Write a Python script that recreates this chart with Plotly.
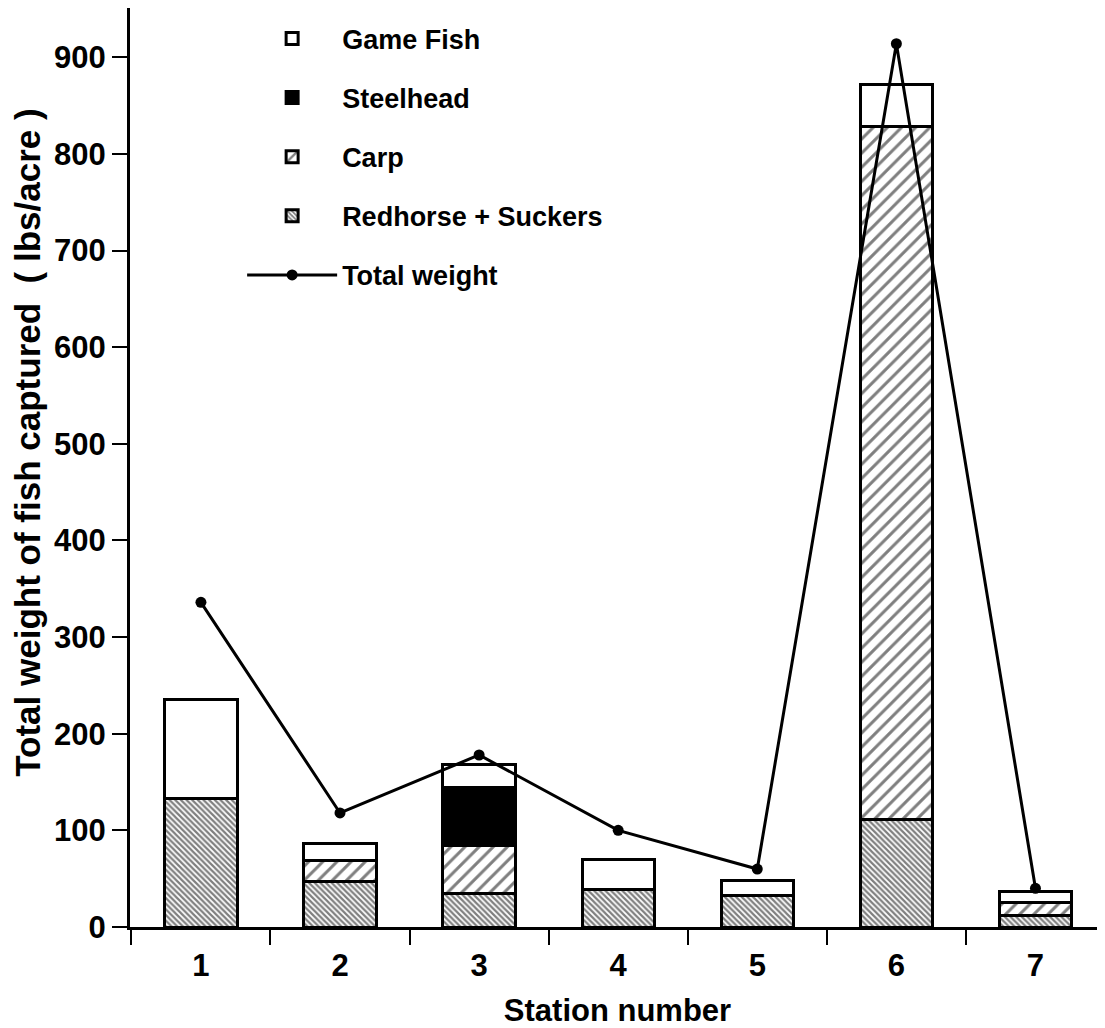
import plotly.graph_objects as go

stations = [1, 2, 3, 4, 5, 6, 7]
station_labels = ["1", "2", "3", "4", "5", "6", "7"]
redhorse_suckers = [133, 47, 35, 39, 33, 111, 12]
carp = [0, 22, 49, 0, 0, 717, 13]
steelhead = [0, 0, 60, 0, 0, 0, 0]
game_fish = [102, 17, 24, 31, 15, 44, 12]
total_weight = [336, 118, 178, 100, 60, 914, 40]
y_ticks = [0, 100, 200, 300, 400, 500, 600, 700, 800, 900]

FONT = "Liberation Sans, Arial, Helvetica, sans-serif"
BAR_W = 0.52
OUTLINE = dict(color="black", width=3)

fig = go.Figure()

fig.add_trace(go.Bar(
    x=stations, y=redhorse_suckers, name="Redhorse + Suckers", width=BAR_W,
    marker=dict(color="white", line=OUTLINE,
                pattern=dict(shape="\\", size=4, solidity=0.55, fgcolor="black", bgcolor="white")),
    legendgroup="d", legendrank=4,
))
fig.add_trace(go.Bar(
    x=stations, y=carp, name="Carp", width=BAR_W,
    marker=dict(color="white", line=OUTLINE,
                pattern=dict(shape="/", size=10, solidity=0.3, fgcolor="black", bgcolor="white")),
    legendgroup="c", legendrank=3,
))
fig.add_trace(go.Bar(
    x=stations, y=steelhead, name="Steelhead", width=BAR_W,
    marker=dict(color="black", line=OUTLINE),
    legendgroup="b", legendrank=2,
))
fig.add_trace(go.Bar(
    x=stations, y=game_fish, name="Game Fish", width=BAR_W,
    marker=dict(color="white", line=OUTLINE),
    legendgroup="a", legendrank=1,
))
fig.add_trace(go.Scatter(
    x=stations, y=total_weight, name="Total weight", mode="lines+markers",
    line=dict(color="black", width=3), marker=dict(color="black", size=11),
    legendgroup="e", legendrank=5,
))

fig.add_annotation(
    text="Total weight of fish captured  ( lbs/acre )",
    textangle=-90, xref="paper", yref="paper", x=-0.1046, y=0.527,
    xanchor="center", yanchor="middle", showarrow=False,
    font=dict(size=35, weight="bold", family=FONT, color="black"),
)

fig.update_layout(
    width=1097, height=1020,
    margin=dict(l=122, r=0, t=0, b=101, autoexpand=False),
    barmode="stack",
    plot_bgcolor="white", paper_bgcolor="white",
    font=dict(family=FONT, color="black"),
    showlegend=True,
    legend=dict(
        x=0.115, y=0.993, xanchor="left", yanchor="top",
        traceorder="grouped", tracegroupgap=21, itemwidth=90,
        font=dict(size=27, family=FONT, weight="bold", color="black"),
        bgcolor="rgba(0,0,0,0)",
    ),
    xaxis=dict(
        range=[0.49, 7.5], tickvals=stations, ticktext=station_labels, ticks="",
        tickfont=dict(size=31, weight="bold"), ticklabelstandoff=9,
        showline=True, linecolor="black", linewidth=3,
        showgrid=False, zeroline=False, automargin=False,
        minor=dict(tickvals=[s - 0.5 for s in stations] + [stations[-1] + 0.5],
                   ticks="outside", ticklen=15, tickwidth=2, tickcolor="black"),
        title=dict(text="Station number", font=dict(size=31, weight="bold"), standoff=24),
    ),
    yaxis=dict(
        range=[0, 951], tickvals=y_ticks, ticks="outside", ticklen=15, tickwidth=2,
        tickcolor="black", tickfont=dict(size=31, weight="bold"),
        showline=True, linecolor="black", linewidth=3,
        showgrid=False, zeroline=False, automargin=False,
    ),
)

fig.write_html("out.html")
